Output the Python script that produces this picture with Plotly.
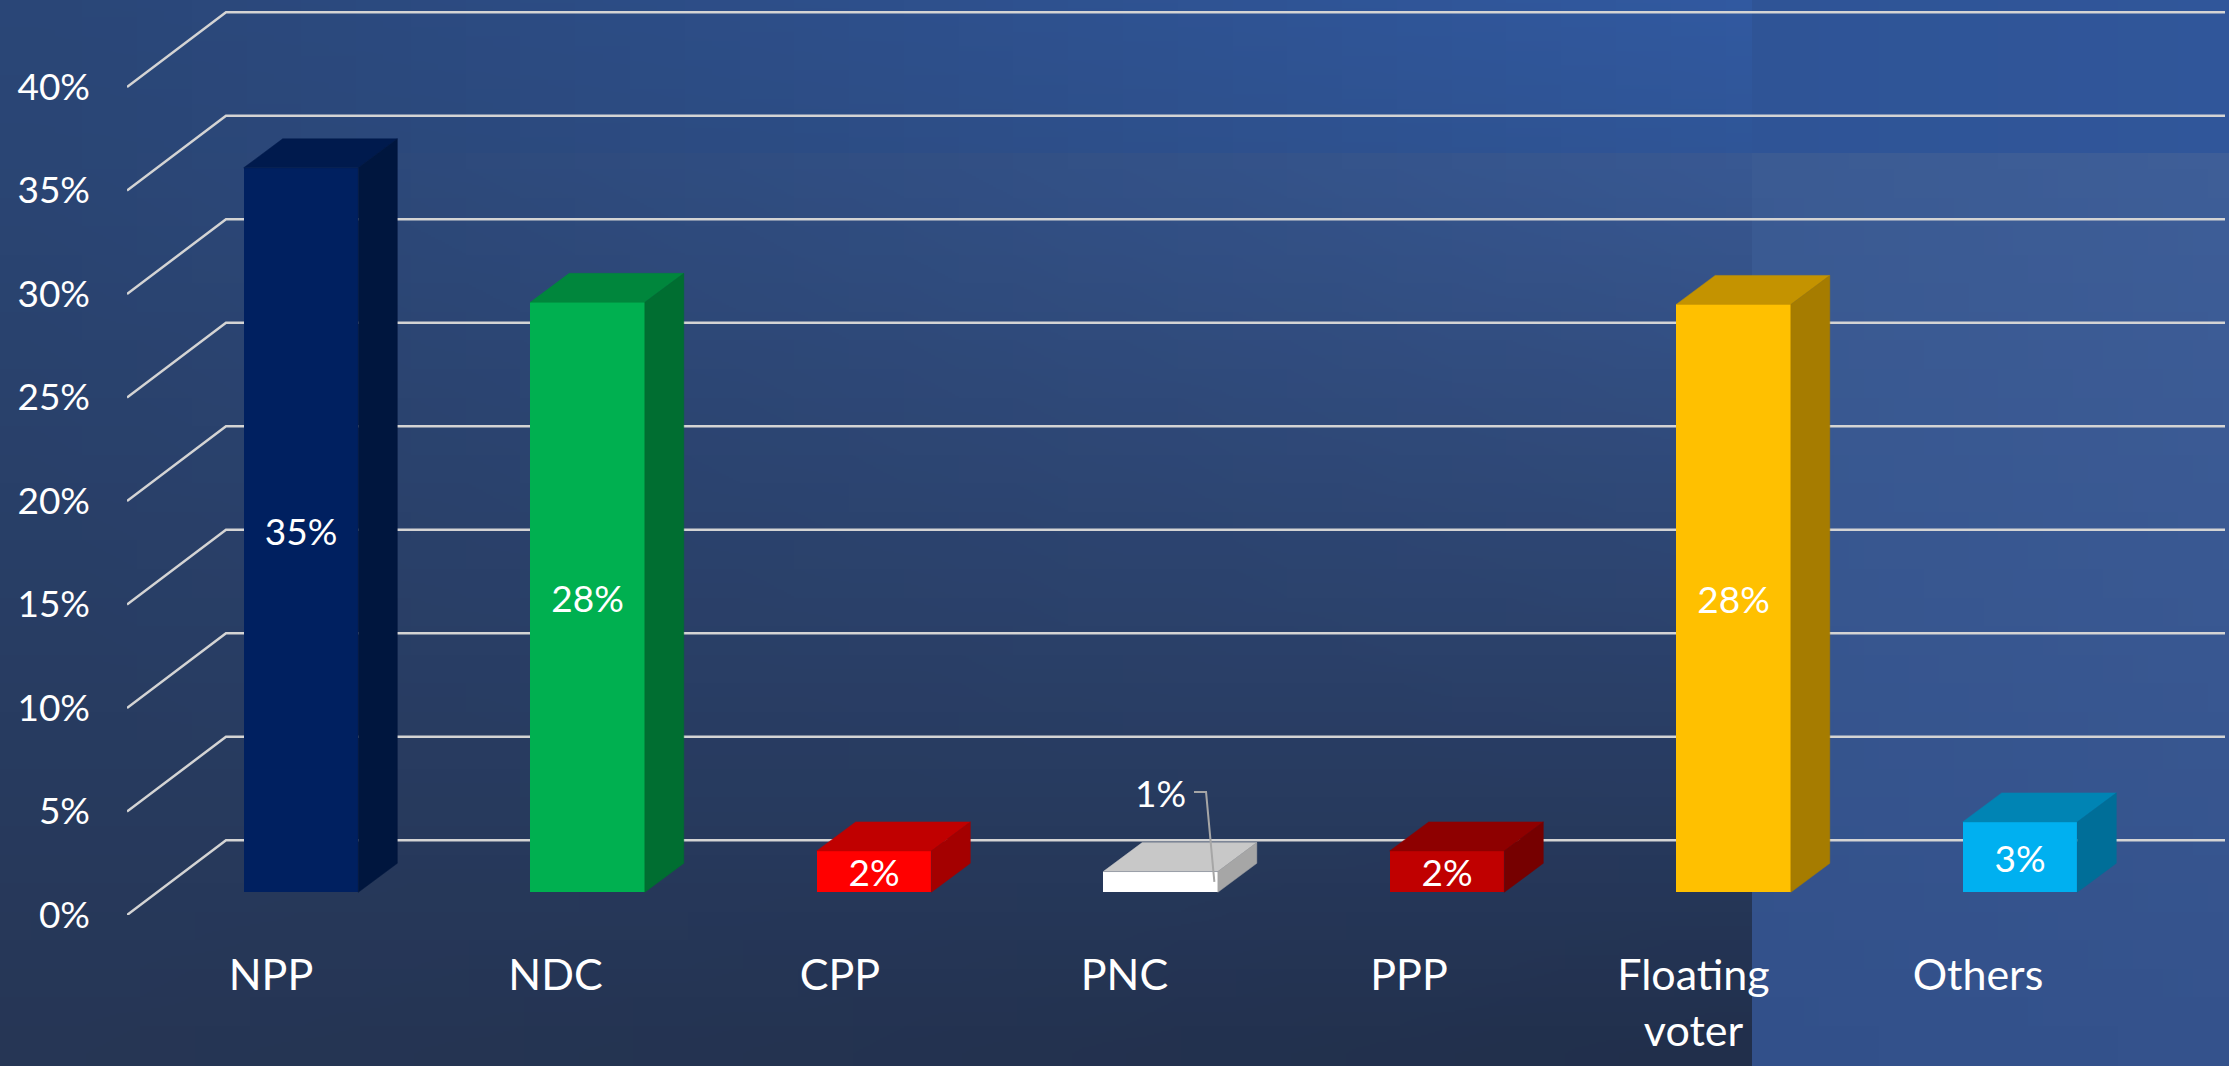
import base64
import struct
import zlib

import plotly.graph_objects as go

# ---------------- data ----------------
categories = ["NPP", "NDC", "CPP", "PNC", "PPP", "Floating voter", "Others"]
category_tick_text = ["NPP", "NDC", "CPP", "PNC", "PPP", "Floating<br>voter", "Others"]
values = [35.0, 28.5, 2.0, 1.0, 2.0, 28.4, 3.4]
value_labels = ["35%", "28%", "2%", "1%", "2%", "28%", "3%"]
inside_label = [True, True, True, False, True, True, True]
y_ticks = [0, 5, 10, 15, 20, 25, 30, 35, 40]
y_tick_text = ["0%", "5%", "10%", "15%", "20%", "25%", "30%", "35%", "40%"]

# ---------------- styles ----------------
front_colors = ["#002060", "#00b050", "#ff0000", "#ffffff", "#c00000", "#ffc000", "#00b0f0"]
top_colors = ["#001a4d", "#00863c", "#c00000", "#c8c8c8", "#8e0000", "#c49300", "#0084b4"]
side_colors = ["#00163e", "#006e31", "#a40000", "#a6a6a6", "#760000", "#a67c00", "#006e98"]
GRID_COLOR = "#d4d4d4"
FONT = "Lato"

W, H = 2229, 1066
M_L, M_R, M_T, M_B = 127, 0, 0, 151
PX_X = 286.5      # pixels per category step
PX_Y = 20.7       # pixels per percentage point
BAR_W = 0.4
DEPTH_DX, DEPTH_DY = 39 / PX_X, 29 / PX_Y        # bar depth
FRONT_DX, FRONT_DY = -30 / PX_X, -22.7 / PX_Y    # label plane relative to bar fronts
LABEL_STEP = 0.993                                # slight perspective of label row
BACK_DY = 52 / PX_Y                               # back wall relative to bar fronts
X_LEFT = -174 / PX_X
X_RIGHT = X_LEFT + (W - M_L - M_R) / PX_X
Y_BOTTOM = FRONT_DY
Y_TOP = Y_BOTTOM + (H - M_T - M_B) / PX_Y
BACK_X = X_LEFT + 99 / PX_X
GRID_END = X_RIGHT - 4 / PX_X


# ---------------- background (gradient images) ----------------
def hex2rgb(h):
    h = h.lstrip("#")
    return [int(h[i:i + 2], 16) for i in (0, 2, 4)]


def gradient_png(tl, tr, bl, br, w=32, h=32):
    tl, tr, bl, br = map(hex2rgb, (tl, tr, bl, br))
    rows = []
    for j in range(h):
        fy = j / (h - 1)
        row = bytearray([0])
        for i in range(w):
            fx = i / (w - 1)
            for c in range(3):
                top = tl[c] * (1 - fx) + tr[c] * fx
                bot = bl[c] * (1 - fx) + br[c] * fx
                row.append(int(round(top * (1 - fy) + bot * fy)))
        rows.append(bytes(row))
    raw = b"".join(rows)

    def chunk(t, d):
        return struct.pack(">I", len(d)) + t + d + struct.pack(">I", zlib.crc32(t + d) & 0xFFFFFFFF)

    png = (b"\x89PNG\r\n\x1a\n"
           + chunk(b"IHDR", struct.pack(">IIBBBBB", w, h, 8, 2, 0, 0, 0))
           + chunk(b"IDAT", zlib.compress(raw, 9))
           + chunk(b"IEND", b""))
    return "data:image/png;base64," + base64.b64encode(png).decode()


PW, PH = W - M_L - M_R, H - M_T - M_B
SPLIT_X, SPLIT_Y = 1752, 153
bg_regions = [
    # (x0, y0, x1, y1, tl, tr, bl, br)
    (0, 0, SPLIT_X, SPLIT_Y, "#2a4677", "#3159a0", "#2a4574", "#2f5597"),
    (0, SPLIT_Y, SPLIT_X, H, "#2a4574", "#385892", "#263655", "#212f4b"),
    (SPLIT_X, 0, W, SPLIT_Y, "#2f5496", "#30569a", "#2f5496", "#30569a"),
    (SPLIT_X, SPLIT_Y, W, H, "#3b5b93", "#3e5e98", "#32508a", "#34528c"),
]
images = []
for x0, y0, x1, y1, tl, tr, bl, br in bg_regions:
    images.append(dict(
        source=gradient_png(tl, tr, bl, br),
        xref="paper", yref="paper",
        x=(x0 - M_L) / PW, y=1 - (y0 - M_T) / PH,
        sizex=(x1 - x0 + 1) / PW, sizey=(y1 - y0 + 1) / PH,
        xanchor="left", yanchor="top", sizing="stretch", layer="below",
    ))

# ---------------- gridlines (floor diagonal + back wall) ----------------
shapes = []
for t in y_ticks:
    path = (f"M {X_LEFT},{t + FRONT_DY} L {BACK_X},{t + BACK_DY} "
            f"L {GRID_END},{t + BACK_DY}")
    shapes.append(dict(type="path", path=path, xref="x", yref="y",
                       line=dict(color=GRID_COLOR, width=2.5), layer="below"))

fig = go.Figure()

# ---------------- bars: front faces ----------------
xs = list(range(len(categories)))
fig.add_trace(go.Bar(
    x=xs, y=values, width=BAR_W,
    marker=dict(color=front_colors, line=dict(width=0)),
    text=[lab if ins else "" for lab, ins in zip(value_labels, inside_label)],
    textposition="inside", insidetextanchor="middle", textangle=0,
    constraintext="none",
    textfont=dict(family=FONT, size=37, color="white"),
    hoverinfo="skip", showlegend=False,
))

# ---------------- bars: top and side faces ----------------
for i, v in enumerate(values):
    xl, xr = i - BAR_W / 2, i + BAR_W / 2
    top_x = [xl, xr, xr + DEPTH_DX, xl + DEPTH_DX, xl]
    top_y = [v, v, v + DEPTH_DY, v + DEPTH_DY, v]
    side_x = [xr, xr + DEPTH_DX, xr + DEPTH_DX, xr, xr]
    side_y = [0, DEPTH_DY, v + DEPTH_DY, v, 0]
    for fx, fy, col in ((top_x, top_y, top_colors[i]), (side_x, side_y, side_colors[i])):
        fig.add_trace(go.Scatter(
            x=fx, y=fy, mode="lines", fill="toself", fillcolor=col,
            line=dict(width=0.5, color=col), hoverinfo="skip",
            showlegend=False, cliponaxis=False,
        ))

# ---------------- outside labels with leader lines ----------------
annotations = []
for i, (v, lab, ins) in enumerate(zip(values, value_labels, inside_label)):
    if ins:
        continue
    ly = v + 3.84
    fig.add_trace(go.Scatter(
        x=[i + 0.117, i + 0.159, i + BAR_W / 2 - 0.012],
        y=[ly, ly, v / 2],
        mode="lines", line=dict(color="#a6a6a6", width=2),
        hoverinfo="skip", showlegend=False, cliponaxis=False,
    ))
    annotations.append(dict(
        x=i, y=ly, xref="x", yref="y", text=lab, showarrow=False,
        xanchor="center", yanchor="middle",
        font=dict(family=FONT, size=37, color="white"),
    ))

fig.update_layout(
    width=W, height=H,
    margin=dict(l=M_L, r=M_R, t=M_T, b=M_B, pad=0),
    paper_bgcolor="#2a416c",
    plot_bgcolor="rgba(0,0,0,0)",
    font=dict(family=FONT, color="white"),
    images=images,
    shapes=shapes,
    annotations=annotations,
    showlegend=False,
    bargap=0,
    xaxis=dict(
        range=[X_LEFT, X_RIGHT],
        tickmode="array",
        tickvals=[x * LABEL_STEP + FRONT_DX for x in xs],
        ticktext=category_tick_text,
        tickfont=dict(family=FONT, size=43, color="white"),
        showgrid=False, zeroline=False, showline=False, ticks="",
        ticklabelstandoff=31,
        fixedrange=True,
    ),
    yaxis=dict(
        range=[Y_BOTTOM, Y_TOP],
        tickmode="array",
        tickvals=[t + FRONT_DY for t in y_ticks],
        ticktext=y_tick_text,
        tickfont=dict(family=FONT, size=37, color="white"),
        showgrid=False, zeroline=False, showline=False, ticks="",
        ticklabelstandoff=36,
        fixedrange=True,
    ),
)

fig.write_html(
    "out.html",
    config={"displayModeBar": False},
    post_script="document.body.style.margin='0';document.body.style.overflow='hidden';",
)
